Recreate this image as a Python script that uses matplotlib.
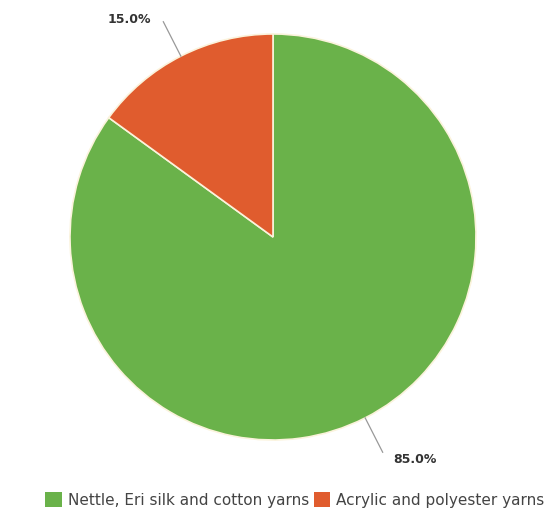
import numpy as np
import matplotlib.pyplot as plt
from matplotlib.patches import Patch

labels = ['Nettle, Eri silk and cotton yarns', 'Acrylic and polyester yarns']
values = [85.0, 15.0]
colors = ['#6ab24a', '#e05c2e']

W, H = 551, 518
fig = plt.figure(figsize=(W / 100, H / 100), dpi=100)
ax = fig.add_axes([0, 0, 1, 1])

cx, cy, R = 273, H - 237, 203
wedges, _ = ax.pie(values, colors=colors, startangle=90, counterclock=False,
                   center=(cx, cy), radius=R, frame=True,
                   wedgeprops=dict(edgecolor='#fbf3dc', linewidth=1.2))
ax.set_xlim(0, W)
ax.set_ylim(0, H)
ax.set_aspect('equal')
ax.axis('off')

# leader lines and percentage labels
for w, v in zip(wedges, values):
    mid = np.radians((w.theta1 + w.theta2) / 2)
    dx, dy = np.cos(mid), np.sin(mid)
    p0 = (cx + R * dx, cy + R * dy)
    p1 = (cx + 1.19 * R * dx, cy + 1.19 * R * dy)
    ax.plot([p0[0], p1[0]], [p0[1], p1[1]], color='#999999', lw=0.9)
    if dx > 0:
        ax.text(p1[0] + 11, p1[1] - 7, f'{v:.1f}%', ha='left', va='center',
                fontsize=9, fontweight='bold', color='#333333')
    else:
        ax.text(p1[0] - 12, p1[1] + 2, f'{v:.1f}%', ha='right', va='center',
                fontsize=9, fontweight='bold', color='#333333')

handles = [Patch(facecolor=c, edgecolor='none') for c in colors]
fig.legend(handles, labels, loc='center', bbox_to_anchor=(0.535, 1 - 500 / H),
           ncol=2, frameon=False, fontsize=11, handlelength=1.1, handleheight=1.1,
           handletextpad=0.4, columnspacing=0.3, labelcolor='#444444')

fig.savefig('out.png', dpi=100)
